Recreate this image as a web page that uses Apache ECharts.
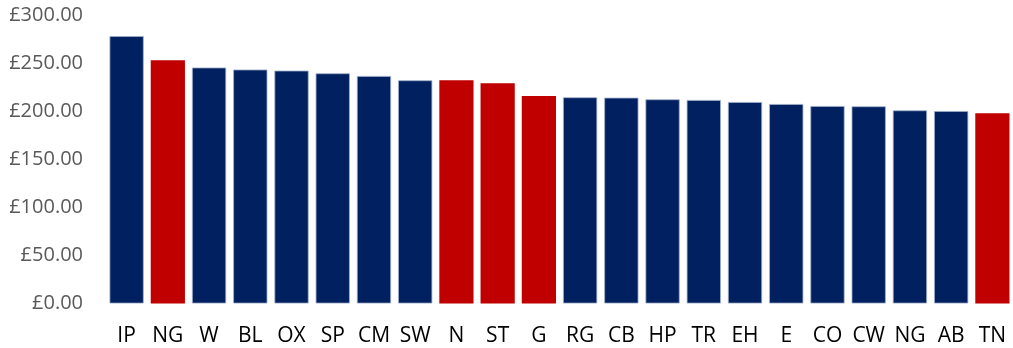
<!DOCTYPE html>
<html>
<head>
<meta charset="utf-8">
<script src="https://cdn.jsdelivr.net/npm/echarts@6/dist/echarts.min.js"></script>
<style>
  html, body { margin: 0; padding: 0; background: #fff; }
  #chart { width: 1013px; height: 348px; }
</style>
</head>
<body>
<div id="chart"></div>
<script>
// Average cost per site, highest first
const categories = ['IP', 'NG', 'W', 'BL', 'OX', 'SP', 'CM', 'SW', 'N', 'ST', 'G',
  'RG', 'CB', 'HP', 'TR', 'EH', 'E', 'CO', 'CW', 'NG', 'AB', 'TN'];
const values = [278.5, 253.5, 245.8, 243.7, 242.6, 239.8, 237.0, 232.5, 232.5, 229.4, 216.2,
  214.8, 214.4, 212.7, 212.0, 209.9, 207.8, 205.7, 205.4, 201.2, 200.5, 198.1];
// Sites picked out in red
const highlighted = [false, true, false, false, false, false, false, false, true, true, true,
  false, false, false, false, false, false, false, false, false, false, true];
const yTicks = { min: 0, max: 300, interval: 50 };

const NAVY = '#002060';
const RED = '#C00000';

const chart = echarts.init(document.getElementById('chart'), null, { renderer: 'canvas' });
chart.setOption({
  animation: false,
  grid: { left: 106, right: 0, top: 15.5, bottom: 44.5 },
  xAxis: {
    type: 'category',
    data: categories,
    axisLine: { show: false },
    axisTick: { show: false },
    axisLabel: {
      interval: 0,
      color: '#000',
      fontFamily: 'Open Sans',
      fontSize: 21,
      margin: 22
    }
  },
  yAxis: {
    type: 'value',
    min: yTicks.min,
    max: yTicks.max,
    interval: yTicks.interval,
    splitLine: { show: false },
    axisLine: { show: false },
    axisTick: { show: false },
    axisLabel: {
      color: '#595959',
      fontFamily: 'Open Sans',
      fontSize: 20,
      margin: 23,
      padding: [3, 0, 0, 0],
      formatter: v => '£' + v.toFixed(2)
    }
  },
  series: [{
    type: 'bar',
    barCategoryGap: '17%',
    data: values.map((v, i) => ({
      value: v,
      itemStyle: highlighted[i]
        ? { color: RED }
        : { color: NAVY, borderColor: '#9fb0cc', borderWidth: 0.8 }
    }))
  }]
});
</script>
</body>
</html>
